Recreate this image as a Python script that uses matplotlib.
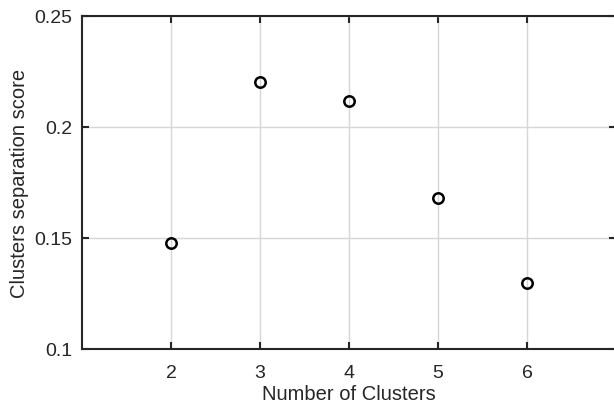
import matplotlib
matplotlib.use("Agg")
import matplotlib.pyplot as plt

plt.rcParams['font.family'] = ['Liberation Sans', 'DejaVu Sans']

n_clusters = [2, 3, 4, 5, 6]
separation_score = [0.1475, 0.2202, 0.2115, 0.1678, 0.1298]

x_ticks = [2, 3, 4, 5, 6]
y_ticks = [0.1, 0.15, 0.2, 0.25]
y_tick_labels = ['0.1', '0.15', '0.2', '0.25']

fig = plt.figure(figsize=(6.14, 4.10), dpi=100)
ax = fig.add_axes([82 / 614, 1 - 350 / 410, (616 - 82) / 614, (350 - 16.5) / 410])

ax.plot(n_clusters, separation_score, linestyle='none', marker='o',
        markersize=7.5, markerfacecolor='none', markeredgecolor='black',
        markeredgewidth=1.8)

ax.set_xlim(1, 7)
ax.set_ylim(0.1, 0.25)
ax.set_xticks(x_ticks)
ax.set_yticks(y_ticks)
ax.set_yticklabels(y_tick_labels)
ax.grid(True, color='#d6d6d6', linewidth=1.0)
ax.set_axisbelow(True)

for side in ['left', 'right', 'top', 'bottom']:
    ax.spines[side].set_color('#262626')
    ax.spines[side].set_linewidth(1.5)
ax.tick_params(axis='both', direction='in', length=5, width=1.5, colors='#262626',
               labelcolor='#262626', labelsize=14, top=True, right=True)
ax.tick_params(axis='x', pad=11)
ax.tick_params(axis='y', pad=7)

ax.set_xlabel('Number of Clusters', fontsize=14.5, color='#262626', labelpad=2)
ax.set_ylabel('Clusters separation score', fontsize=14.5, color='#262626', labelpad=4)

fig.savefig('out.png', dpi=100)
